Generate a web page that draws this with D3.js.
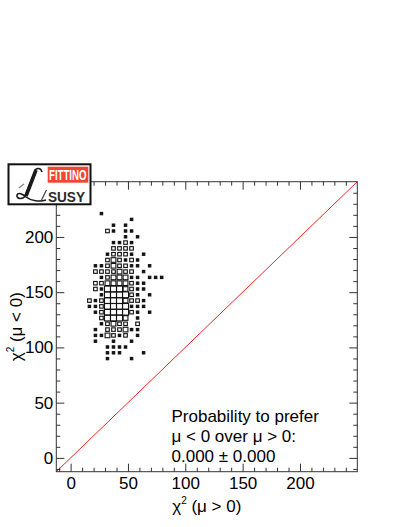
<!DOCTYPE html>
<html>
<head>
<meta charset="utf-8">
<script src="https://cdn.jsdelivr.net/npm/d3@7"></script>
<style>
  body { margin: 0; background: #fff; }
  text { font-family: "Liberation Sans", Arial, Helvetica, sans-serif; }
</style>
</head>
<body>
<svg id="chart"></svg>
<script>
// histogram binning (same for both axes)
var range = [-12.5, 250]
var binWidth = 5.25
var majorTicks = [0, 50, 100, 150, 200]

// cells: [chi2(mu>0), chi2(mu<0), content]
var cells = [
  [26.88, 221.13, 1],
  [53.13, 215.88, 1],
  [37.38, 210.63, 1], [47.88, 210.63, 1],
  [32.13, 205.38, 2], [37.38, 205.38, 1], [47.88, 205.38, 1], [53.13, 205.38, 1],
  [47.88, 200.13, 1], [58.38, 200.13, 1],
  [37.38, 194.88, 1], [42.63, 194.88, 1], [47.88, 194.88, 2], [53.13, 194.88, 1],
  [37.38, 189.63, 2], [42.63, 189.63, 2], [47.88, 189.63, 2], [53.13, 189.63, 2],
  [32.13, 184.38, 1], [37.38, 184.38, 2], [42.63, 184.38, 2], [47.88, 184.38, 2], [53.13, 184.38, 1], [63.63, 184.38, 1],
  [32.13, 179.13, 2], [37.38, 179.13, 3], [42.63, 179.13, 2], [47.88, 179.13, 1], [53.13, 179.13, 2], [58.38, 179.13, 1],
  [21.63, 173.88, 1], [26.88, 173.88, 1], [32.13, 173.88, 2], [37.38, 173.88, 3], [42.63, 173.88, 2], [47.88, 173.88, 2],
  [53.13, 173.88, 1], [58.38, 173.88, 1], [68.88, 173.88, 1],
  [21.63, 168.63, 2], [26.88, 168.63, 2], [32.13, 168.63, 2], [37.38, 168.63, 2], [42.63, 168.63, 3], [47.88, 168.63, 2],
  [53.13, 168.63, 2], [63.63, 168.63, 1],
  [26.88, 163.38, 1], [32.13, 163.38, 2], [37.38, 163.38, 3], [42.63, 163.38, 3], [47.88, 163.38, 3], [53.13, 163.38, 1],
  [58.38, 163.38, 1], [68.88, 163.38, 1], [74.13, 163.38, 1], [79.38, 163.38, 1],
  [21.63, 158.13, 2], [26.88, 158.13, 2], [32.13, 158.13, 3], [37.38, 158.13, 3], [42.63, 158.13, 3], [47.88, 158.13, 3],
  [53.13, 158.13, 2], [58.38, 158.13, 1], [63.63, 158.13, 1],
  [21.63, 152.88, 2], [26.88, 152.88, 1], [32.13, 152.88, 4], [37.38, 152.88, 4], [42.63, 152.88, 4], [47.88, 152.88, 3],
  [53.13, 152.88, 2], [58.38, 152.88, 1], [63.63, 152.88, 1],
  [26.88, 147.63, 1], [32.13, 147.63, 4], [37.38, 147.63, 4], [42.63, 147.63, 4], [47.88, 147.63, 4], [53.13, 147.63, 2],
  [58.38, 147.63, 1], [68.88, 147.63, 1],
  [16.38, 142.38, 2], [21.63, 142.38, 1], [26.88, 142.38, 2], [32.13, 142.38, 4], [37.38, 142.38, 4], [42.63, 142.38, 4],
  [47.88, 142.38, 3], [53.13, 142.38, 2], [58.38, 142.38, 2], [63.63, 142.38, 1],
  [16.38, 137.13, 1], [21.63, 137.13, 1], [26.88, 137.13, 2], [32.13, 137.13, 4], [37.38, 137.13, 4], [42.63, 137.13, 4],
  [47.88, 137.13, 4], [53.13, 137.13, 1], [58.38, 137.13, 1], [63.63, 137.13, 1],
  [21.63, 131.88, 1], [26.88, 131.88, 2], [32.13, 131.88, 4], [37.38, 131.88, 4], [42.63, 131.88, 4], [47.88, 131.88, 4],
  [53.13, 131.88, 2], [58.38, 131.88, 1], [68.88, 131.88, 1],
  [26.88, 126.63, 2], [32.13, 126.63, 4], [37.38, 126.63, 4], [42.63, 126.63, 4], [47.88, 126.63, 3], [58.38, 126.63, 1],
  [26.88, 121.38, 1], [32.13, 121.38, 2], [37.38, 121.38, 3], [42.63, 121.38, 2], [47.88, 121.38, 2], [58.38, 121.38, 2],
  [21.63, 116.13, 1], [32.13, 116.13, 2], [37.38, 116.13, 2], [42.63, 116.13, 2], [47.88, 116.13, 3], [53.13, 116.13, 1], [58.38, 116.13, 1],
  [21.63, 110.88, 1], [26.88, 110.88, 1], [32.13, 110.88, 3], [37.38, 110.88, 2], [42.63, 110.88, 1], [47.88, 110.88, 2], [58.38, 110.88, 1],
  [21.63, 105.63, 1], [37.38, 105.63, 1], [53.13, 105.63, 1],
  [32.13, 100.38, 1], [37.38, 100.38, 1], [42.63, 100.38, 1], [47.88, 100.38, 1],
  [32.13, 95.13, 1], [37.38, 95.13, 1], [42.63, 95.13, 1], [63.63, 95.13, 1],
  [32.13, 89.88, 1], [53.13, 89.88, 1]
]

var probLines = ["Probability to prefer", "\u03bc < 0 over \u03bc > 0:", "0.000 \u00b1 0.000"]

var width = 407
var height = 527
var svg = d3.select("#chart").attr("width", width).attr("height", height)

var x = d3.scaleLinear().domain(range).range([56.3, 357.3])
var y = d3.scaleLinear().domain(range).range([471.7, 181.7])

var minor = d3.range(-10, 250, 10).filter(function(v) { return v % 50 != 0 })

// boxes, side grows with content
var maxN = d3.max(cells, d => d[2])
var binPx = x(binWidth) - x(0)
var binPy = y(0) - y(binWidth)
var side = d3.scaleLinear().domain([0, maxN]).range([0.2, 1])
svg.append("g")
  .selectAll("rect")
  .data(cells)
  .enter()
  .append("rect")
  .attr("x", d => x(d[0]) - binPx * side(d[2]) / 2)
  .attr("y", d => y(d[1]) - binPy * side(d[2]) / 2)
  .attr("width", d => binPx * side(d[2]))
  .attr("height", d => binPy * side(d[2]))
  .attr("fill", d => d[2] == 1 ? "#111" : "none")
  .attr("stroke", "#111")
  .attr("stroke-width", 1.1)

// diagonal
svg.append("line")
  .attr("x1", x(range[0])).attr("y1", y(range[0]))
  .attr("x2", x(range[1])).attr("y2", y(range[1]))
  .attr("stroke", "#ff2020")
  .attr("stroke-width", 1)

// frame
svg.append("rect")
  .attr("x", x(range[0])).attr("y", y(range[1]))
  .attr("width", x(range[1]) - x(range[0]))
  .attr("height", y(range[0]) - y(range[1]))
  .attr("fill", "none")
  .attr("stroke", "#333")
  .attr("stroke-width", 1)

function addAxis(axis, tx, ty, labels) {
  var g = svg.append("g").attr("transform", "translate(" + tx + "," + ty + ")").call(axis)
  g.select(".domain").remove()
  g.selectAll(".tick line").attr("stroke", "#333")
  if (!labels) g.selectAll(".tick text").remove()
  else g.selectAll(".tick text").attr("font-size", 17).attr("fill", "#000")
  g.attr("font-family", null)
  return g
}

// bottom / top
addAxis(d3.axisBottom(x).tickValues(majorTicks).tickSize(-8).tickPadding(5).tickSizeOuter(0), 0, y(range[0]), true)
addAxis(d3.axisBottom(x).tickValues(minor).tickSize(-4).tickFormat("").tickSizeOuter(0), 0, y(range[0]), false)
addAxis(d3.axisTop(x).tickValues(majorTicks).tickSize(-8).tickSizeOuter(0), 0, y(range[1]), false)
addAxis(d3.axisTop(x).tickValues(minor).tickSize(-4).tickSizeOuter(0), 0, y(range[1]), false)
// left / right
addAxis(d3.axisLeft(y).tickValues(majorTicks).tickSize(-8).tickPadding(3).tickSizeOuter(0), x(range[0]), 0, true)
addAxis(d3.axisLeft(y).tickValues(minor).tickSize(-4).tickFormat("").tickSizeOuter(0), x(range[0]), 0, false)
addAxis(d3.axisRight(y).tickValues(majorTicks).tickSize(-8).tickSizeOuter(0), x(range[1]), 0, false)
addAxis(d3.axisRight(y).tickValues(minor).tickSize(-4).tickSizeOuter(0), x(range[1]), 0, false)

// axis titles
var xt = svg.append("text")
  .attr("x", (x(range[0]) + x(range[1])) / 2).attr("y", 512)
  .attr("text-anchor", "middle").attr("font-size", 17)
xt.append("tspan").text("\u03c7")
xt.append("tspan").attr("font-size", 10).attr("dy", -8).text("2")
xt.append("tspan").attr("dy", 8).text(" (\u03bc > 0)")

var yt = svg.append("text")
  .attr("transform", "translate(22," + (y(range[0]) + y(range[1])) / 2 + ") rotate(-90)")
  .attr("text-anchor", "middle").attr("font-size", 17)
yt.append("tspan").text("\u03c7")
yt.append("tspan").attr("font-size", 10).attr("dy", -8).text("2")
yt.append("tspan").attr("dy", 8).text(" (\u03bc < 0)")

// probability text
svg.append("g").selectAll("text")
  .data(probLines)
  .enter()
  .append("text")
  .attr("x", 171.5)
  .attr("y", (d, i) => 422 + i * 19.8)
  .attr("font-size", 17)
  .text(d => d)

// Fittino logo
var logo = svg.append("g")
logo.append("rect")
  .attr("x", 8.5).attr("y", 164.3).attr("width", 82).attr("height", 40)
  .attr("fill", "#fff").attr("stroke", "#111").attr("stroke-width", 2)
logo.append("rect")
  .attr("x", 47.7).attr("y", 166.7).attr("width", 40.6).attr("height", 16)
  .attr("fill", "#f04632")
logo.append("text")
  .attr("x", 49).attr("y", 179.5)
  .attr("font-size", 14).attr("font-weight", "bold").attr("fill", "#fff")
  .attr("textLength", 37.5).attr("lengthAdjust", "spacingAndGlyphs")
  .text("FITTINO")
logo.append("text")
  .attr("x", 48).attr("y", 201.5)
  .attr("font-size", 14).attr("font-weight", "bold").attr("fill", "#2a2a2a")
  .attr("textLength", 37).attr("lengthAdjust", "spacingAndGlyphs")
  .text("SUSY")
// script L
logo.append("path")
  .attr("d", "M42,172 C41,167.5 36,167.5 35,171 L25,196 C23,200 16,199 17,195 C18,192 23,194 26,197 C31,201 40,202 46,200")
  .attr("fill", "none").attr("stroke", "#1a1a1a").attr("stroke-width", 1.6)
logo.append("path")
  .attr("d", "M36,170 L26,196")
  .attr("fill", "none").attr("stroke", "#1a1a1a").attr("stroke-width", 3.6)
logo.append("path")
  .attr("d", "M19,188 L24,184")
  .attr("fill", "none").attr("stroke", "#888").attr("stroke-width", 1.4)
logo.append("path")
  .attr("d", "M41,201 L46.5,190")
  .attr("fill", "none").attr("stroke", "#444").attr("stroke-width", 1.2)
</script>
</body>
</html>
